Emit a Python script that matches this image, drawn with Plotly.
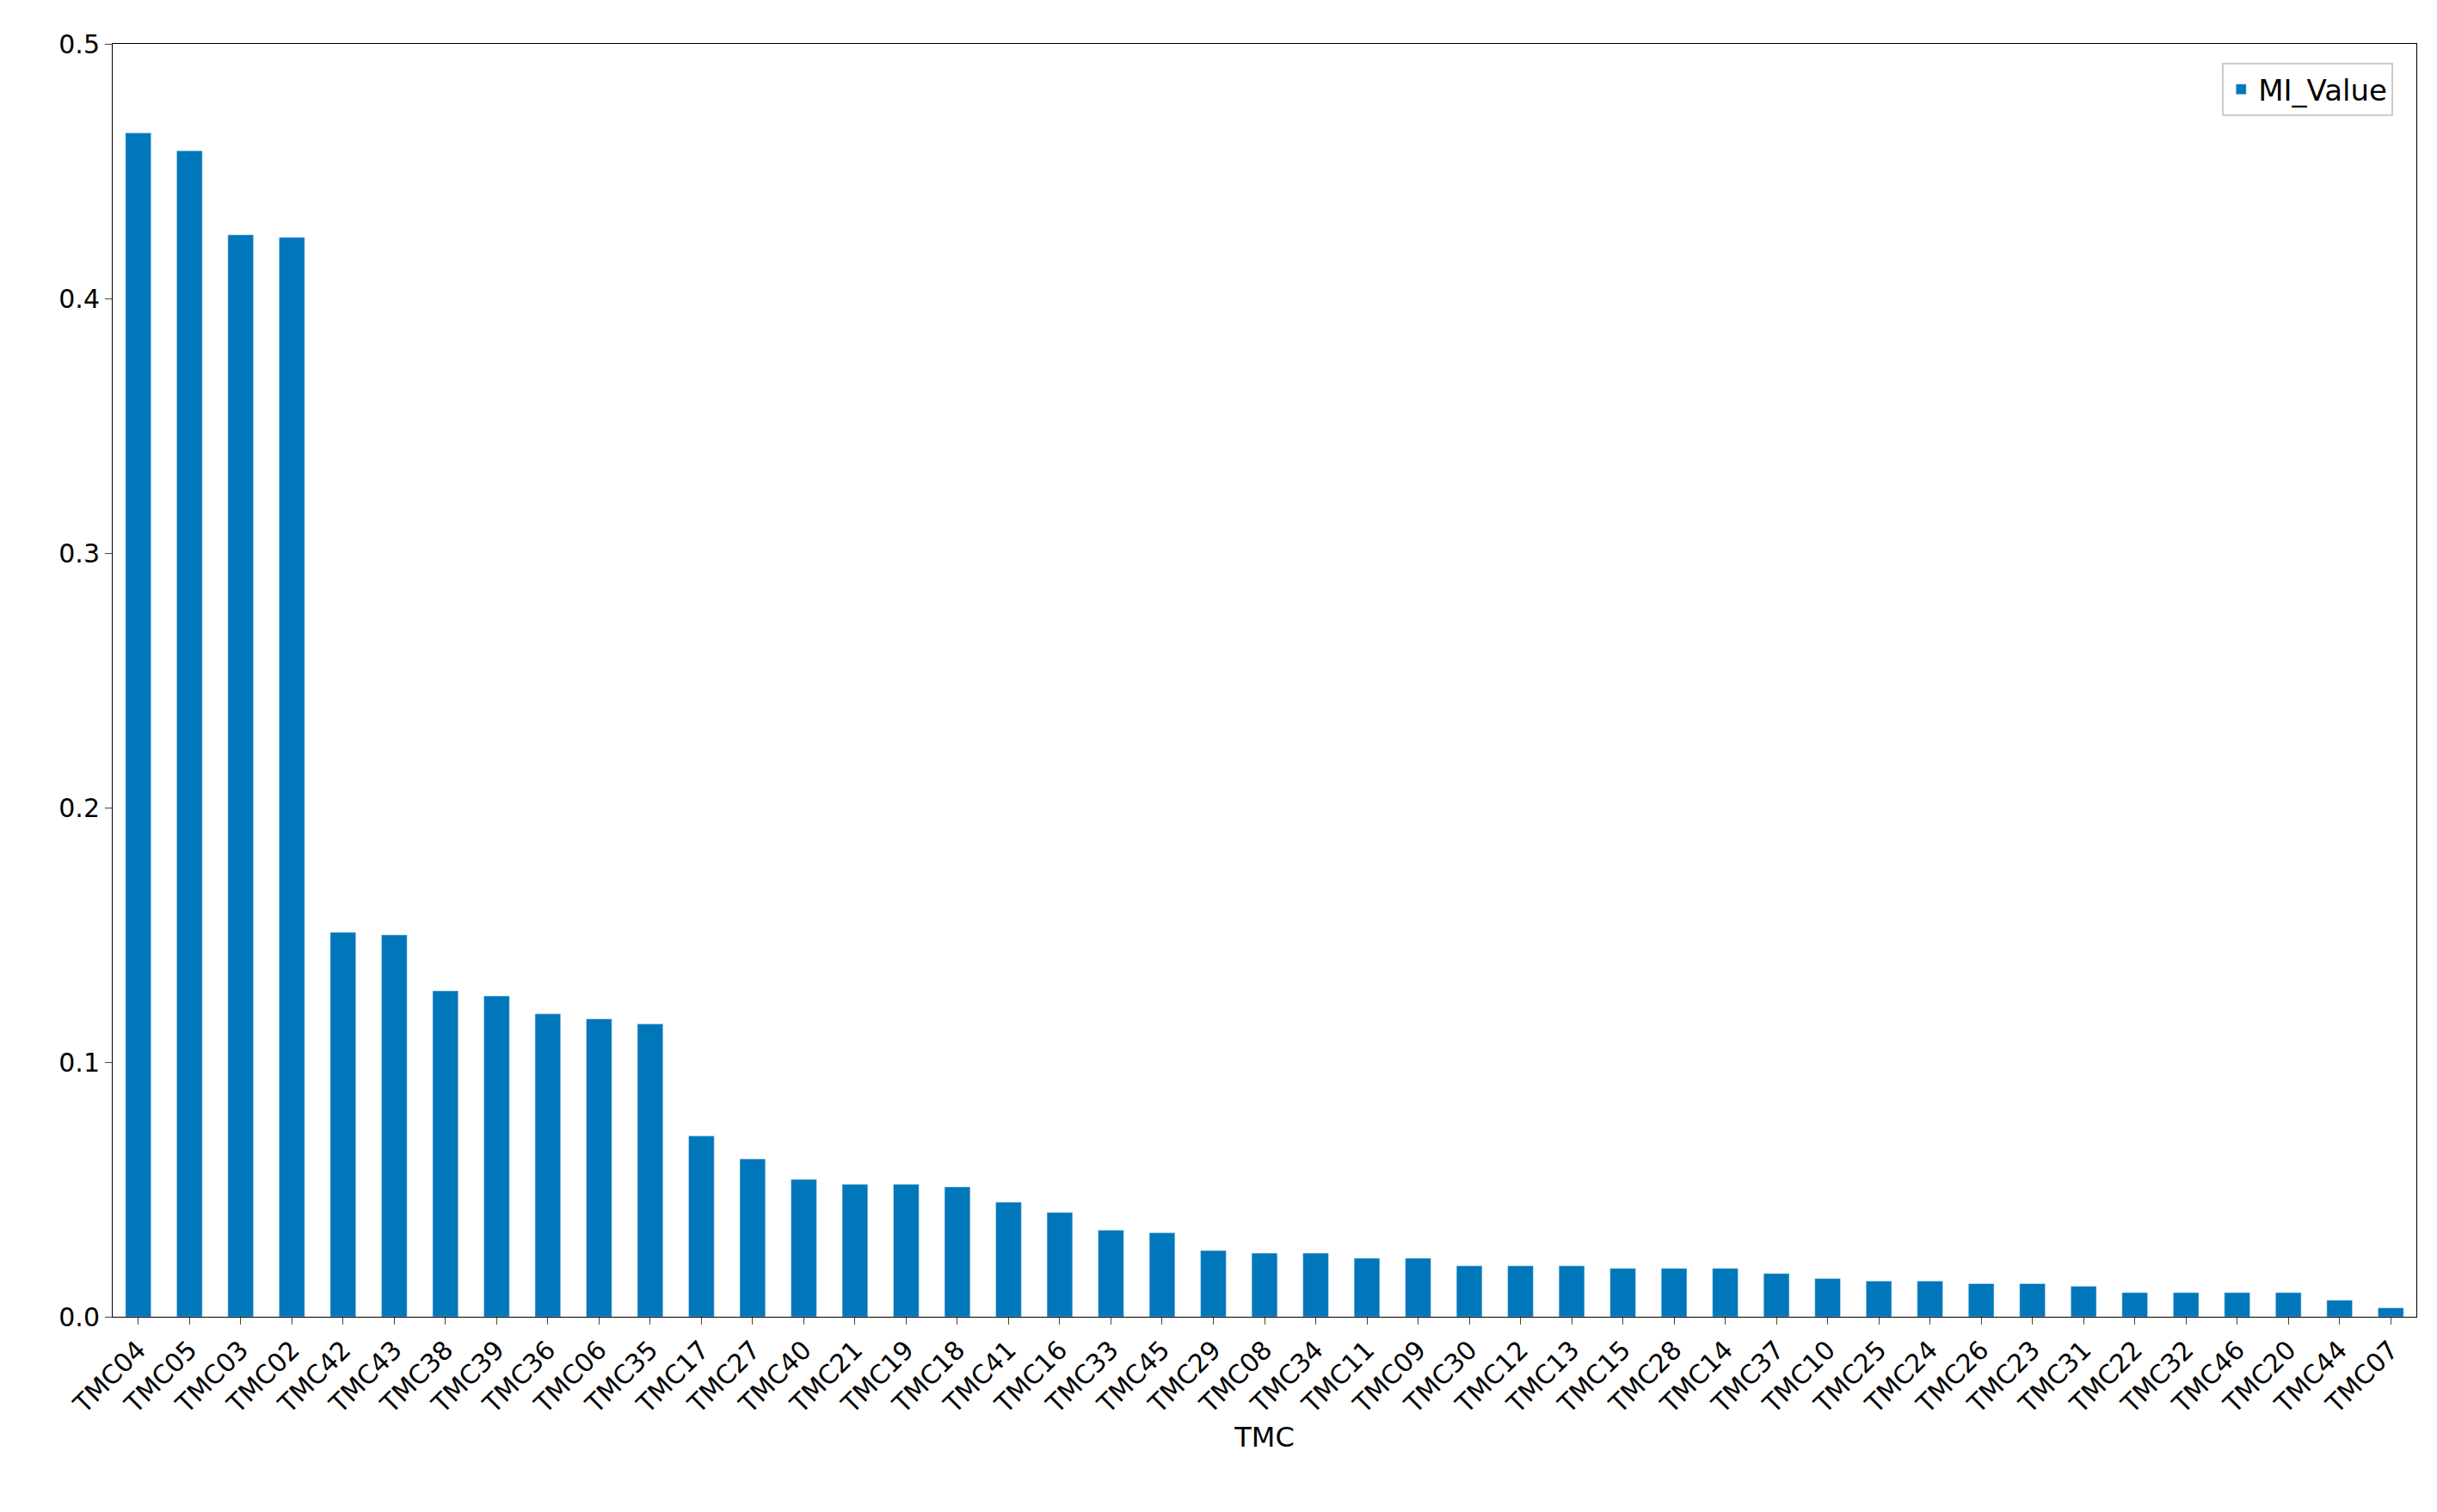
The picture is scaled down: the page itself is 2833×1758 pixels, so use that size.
import plotly.graph_objects as go

categories = ["TMC04","TMC05","TMC03","TMC02","TMC42","TMC43","TMC38","TMC39","TMC36","TMC06","TMC35","TMC17","TMC27","TMC40","TMC21","TMC19","TMC18","TMC41","TMC16","TMC33","TMC45","TMC29","TMC08","TMC34","TMC11","TMC09","TMC30","TMC12","TMC13","TMC15","TMC28","TMC14","TMC37","TMC10","TMC25","TMC24","TMC26","TMC23","TMC31","TMC22","TMC32","TMC46","TMC20","TMC44","TMC07"]
mi_values = [0.465,0.458,0.425,0.424,0.151,0.150,0.128,0.126,0.119,0.117,0.115,0.071,0.062,0.054,0.052,0.052,0.051,0.045,0.041,0.034,0.033,0.026,0.025,0.025,0.023,0.023,0.020,0.020,0.020,0.019,0.019,0.019,0.017,0.015,0.014,0.014,0.013,0.013,0.012,0.0095,0.0095,0.0095,0.0095,0.0065,0.0035]
y_ticks = [0.0,0.1,0.2,0.3,0.4,0.5]

fig = go.Figure(go.Bar(x=categories, y=mi_values, name="MI_Value", marker_color="#0077bb", width=0.5, showlegend=True))
fig.update_layout(
    width=2833, height=1758, paper_bgcolor="white", plot_bgcolor="white",
    margin=dict(l=123, r=32, t=43, b=235),
    font=dict(family="DejaVu Sans", size=30, color="black"),
    legend=dict(x=0.99, y=0.985, xanchor="right", yanchor="top", bordercolor="#cccccc", borderwidth=2, font=dict(size=34)),
    bargap=0.5,
)
fig.update_xaxes(tickangle=-45, showline=True, linecolor="black", mirror=True, ticks="outside", ticklen=8,
                 title=dict(text="TMC", font=dict(size=32), standoff=10), range=[-0.5, len(categories)-0.5])
fig.update_yaxes(range=[0, 0.5], tickvals=y_ticks, tickformat=".1f", showline=True, linecolor="black", mirror=True,
                 ticks="outside", ticklen=8, showgrid=False, zeroline=False)
fig.write_html("out.html")
